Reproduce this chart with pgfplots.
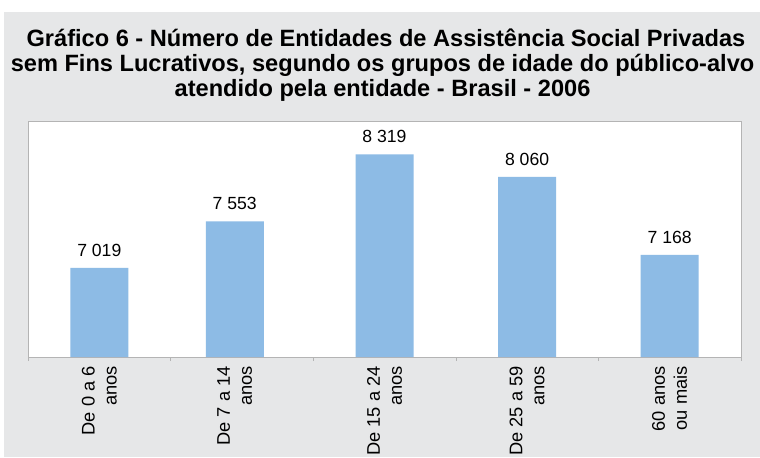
\documentclass[border=0pt]{standalone}
\usepackage{fontspec}
\setmainfont{Liberation Sans}
\usepackage{pgfplots}
\pgfplotsset{compat=1.18}
\definecolor{bgc}{RGB}{230,231,232}
\definecolor{barc}{RGB}{141,187,229}
\definecolor{axc}{RGB}{180,180,180}
\begin{document}
\begin{tikzpicture}
\useasboundingbox (0,0) rectangle (570pt,342.75pt);
\fill[white] (0,0) rectangle (570pt,342.75pt);
\fill[bgc] (3pt,0) rectangle (570pt,333.75pt);
\begin{scope}[every node/.style={anchor=base, inner sep=0pt, font=\fontsize{17.7}{20}\selectfont\bfseries}]
\node at (289.5pt,307.5pt) {Gráfico 6 - Número de Entidades de Assistência Social Privadas};
\node at (286.9pt,288.75pt) {sem Fins Lucrativos, segundo os grupos de idade do público-alvo};
\node at (286.9pt,270pt) {atendido pela entidade - Brasil - 2006};
\end{scope}
\begin{axis}[
  at={(21pt,75pt)}, anchor=south west,
  scale only axis, width=534.75pt, height=177pt,
  xmin=-0.5, xmax=4.5, ymin=6000, ymax=8700,
  axis background/.style={fill=white},
  axis line style={axc},
  ytick=\empty,
  xtick pos=bottom,
  xtick={0,0.95,2,3,4},
  xticklabels={{De 0 a 6\\anos},{De 7 a 14\\anos},{De 15 a 24\\anos},{De 25 a 59\\anos},{60 anos\\ou mais}},
  major tick length=0pt,
  minor xtick={-0.5,0.5,...,4.5},
  minor tick length=3pt,
  tick align=outside,
  minor tick style={axc},
  xticklabel style={yshift=-6.75pt, rotate=90, anchor=east, align=right, inner sep=0pt, font=\fontsize{13.7}{16.5}\selectfont},
  ybar, bar width=43.5pt,
  clip=false,
  nodes near coords,
  point meta=explicit symbolic,
  nodes near coords style={anchor=south, inner sep=0pt, yshift=8.5pt, font=\fontsize{13.2}{15}\selectfont, text=black},
]
\addplot[fill=barc, draw=none] coordinates {
(0,7019) [7 019]
(0.95,7553) [7 553]
(2,8319) [8 319]
(3,8060) [8 060]
(4,7168) [7 168]
};
\end{axis}
\end{tikzpicture}
\end{document}
